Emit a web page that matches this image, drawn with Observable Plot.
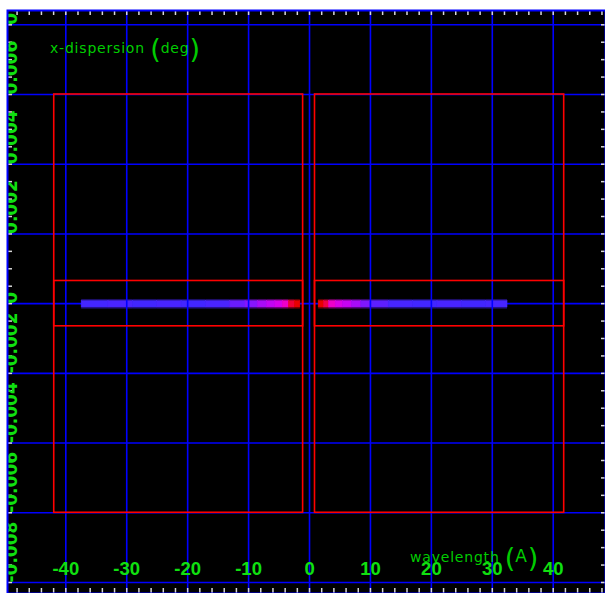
<!DOCTYPE html>
<html><head><meta charset="utf-8">
<script src="https://cdn.jsdelivr.net/npm/d3@7"></script>
<script src="https://cdn.jsdelivr.net/npm/@observablehq/plot@0.6"></script>
<style>html,body{margin:0;padding:0;background:#fff;} svg{display:block;}</style>
</head><body><div id="chart"></div>
<script>
// tick values
const xTicks = [-40, -30, -20, -10, 0, 10, 20, 30, 40];
const yTicks = [-0.008, -0.006, -0.004, -0.002, 0, 0.002, 0.004, 0.006, 0.008];
const xMinor = [-48, -46, -44, -42, -40, -38, -36, -34, -32, -30, -28, -26, -24, -22, -20, -18, -16, -14, -12, -10, -8, -6, -4, -2,
  0, 2, 4, 6, 8, 10, 12, 14, 16, 18, 20, 22, 24, 26, 28, 30, 32, 34, 36, 38, 40, 42, 44, 46, 48];
const yMinor = [-0.008, -0.0075, -0.007, -0.0065, -0.006, -0.0055, -0.005, -0.0045, -0.004, -0.0035, -0.003, -0.0025, -0.002, -0.0015, -0.001, -0.0005,
  0, 0.0005, 0.001, 0.0015, 0.002, 0.0025, 0.003, 0.0035, 0.004, 0.0045, 0.005, 0.0055, 0.006, 0.0065, 0.007, 0.0075, 0.008];
const xLabels = ["-40", "-30", "-20", "-10", "0", "10", "20", "30", "40"];
const yLabels = ["-0.008", "-0.006", "-0.004", "-0.002", "0", "0.002", "0.004", "0.006", "0.008"];

// detector boxes (wavelength A, x-dispersion deg)
const boxX1 = [-41.9, 0.9];
const boxX2 = [-1.05, 41.8];
const boxOuterY = [-0.006, 0.006];
const boxInnerY = [-0.00065, 0.00065];

// dispersed spectrum: segment edges and intensity level (0 = faint/blue, 1 = bright/red)
const leftEdges  = [-37.4, -33, -29, -25, -21, -17, -13, -10.5, -8.5, -7, -5.6, -4.4, -3.4, -2.4, -1.5];
const leftLevels = [0.06, 0.1, 0.05, 0.09, 0.05, 0.1, 0.3, 0.45, 0.58, 0.68, 0.76, 0.84, 0.97, 1.0];
const rightEdges  = [1.5, 2.4, 3.2, 4.3, 5.5, 7, 8.5, 10, 13, 17, 21, 25, 29, 32.5];
const rightLevels = [1.0, 0.96, 0.84, 0.77, 0.7, 0.58, 0.42, 0.22, 0.08, 0.05, 0.09, 0.05, 0.08];
const bandY = [-0.00011, 0.00007];
const glowY = [-0.00016, 0.00012];

const segs = [];
leftLevels.forEach((v, i) => segs.push({x1: leftEdges[i], x2: leftEdges[i + 1], level: v}));
rightLevels.forEach((v, i) => segs.push({x1: rightEdges[i], x2: rightEdges[i + 1], level: v}));
const boxes = boxX1.map((x1, i) => ({x1, x2: boxX2[i]}));

const GREEN = "#10e010";
const BLUE = "#0000ff";

const svg = Plot.plot({
  width: 605, height: 593,
  marginLeft: 7, marginTop: 10, marginRight: 0, marginBottom: 0,
  style: {background: "white", overflow: "hidden"},
  x: {domain: [-49.57, 48.58], axis: null},
  y: {domain: [-0.008316, 0.00841], axis: null},
  color: {type: "linear", domain: [0, 0.4, 0.75, 0.9, 1], range: ["#3a28ff", "#7a18ff", "#d400f0", "#ff00b0", "#e80000"]},
  marks: [
    Plot.frame({fill: "black"}),
    Plot.ruleY(yTicks, {stroke: BLUE, strokeWidth: 1.6}),
    Plot.rect(segs, {x1: "x1", x2: "x2", y1: glowY[0], y2: glowY[1], fill: "level", fillOpacity: 0.4}),
    Plot.rect(segs, {x1: "x1", x2: "x2", y1: bandY[0], y2: bandY[1], fill: "level", stroke: "level", strokeWidth: 0.5}),
    Plot.ruleX(xTicks, {stroke: BLUE, strokeWidth: 1.6}),
    Plot.rect(boxes, {x1: "x1", x2: "x2", y1: boxOuterY[0], y2: boxOuterY[1], stroke: "#ff0000", strokeWidth: 1.6, fill: "none"}),
    Plot.rect(boxes, {x1: "x1", x2: "x2", y1: boxInnerY[0], y2: boxInnerY[1], stroke: "#ff0000", strokeWidth: 1.6, fill: "none"}),
    Plot.ruleX(xMinor, {stroke: "#d8d8d8", strokeWidth: 1.5, insetTop: 1, insetBottom: 578}),
    Plot.ruleX(xMinor, {stroke: "#d8d8d8", strokeWidth: 1.5, insetTop: 578, insetBottom: 0}),
    Plot.ruleY(yMinor, {stroke: "#d8d8d8", strokeWidth: 1.5, insetLeft: 1, insetRight: 593}),
    Plot.ruleY(yMinor, {stroke: "#d8d8d8", strokeWidth: 1.5, insetLeft: 594, insetRight: 0}),
    Plot.text(xTicks, {x: d => d, frameAnchor: "bottom", dy: -19, text: (d, i) => xLabels[i],
      fill: GREEN, fontSize: 18.5, fontWeight: "bold", fontFamily: "Liberation Sans"}),
    Plot.text(yTicks, {y: d => d, frameAnchor: "left", dx: 4, rotate: -90, text: (d, i) => yLabels[i],
      fill: GREEN, fontSize: 17, fontWeight: "bold", fontFamily: "DejaVu Sans", clip: "frame"}),
    Plot.frame({stroke: BLUE, strokeWidth: 2})
  ]
});

// axis titles
function title(x, y, parts) {
  const t = d3.select(svg).append("text")
    .attr("x", x).attr("y", y)
    .attr("text-anchor", "start")
    .attr("fill", "#00cc00")
    .attr("font-family", "DejaVu Sans")
    .attr("font-size", 14);
  parts.forEach(p => {
    t.append("tspan").attr("font-size", p.size).attr("dy", p.dy)
      .attr("letter-spacing", p.size > 20 ? 0 : 0.8).text(p.text);
  });
}
title(50, 53, [
  {text: "x-dispersion ", size: 14, dy: 0},
  {text: "(", size: 27, dy: 5},
  {text: "deg", size: 14, dy: -5},
  {text: ")", size: 27, dy: 5}
]);
title(410, 562, [
  {text: "wavelength ", size: 14, dy: 0},
  {text: "(", size: 27, dy: 5},
  {text: "A", size: 17, dy: -5},
  {text: ")", size: 27, dy: 5}
]);

document.getElementById("chart").appendChild(svg);
</script>
</body></html>
